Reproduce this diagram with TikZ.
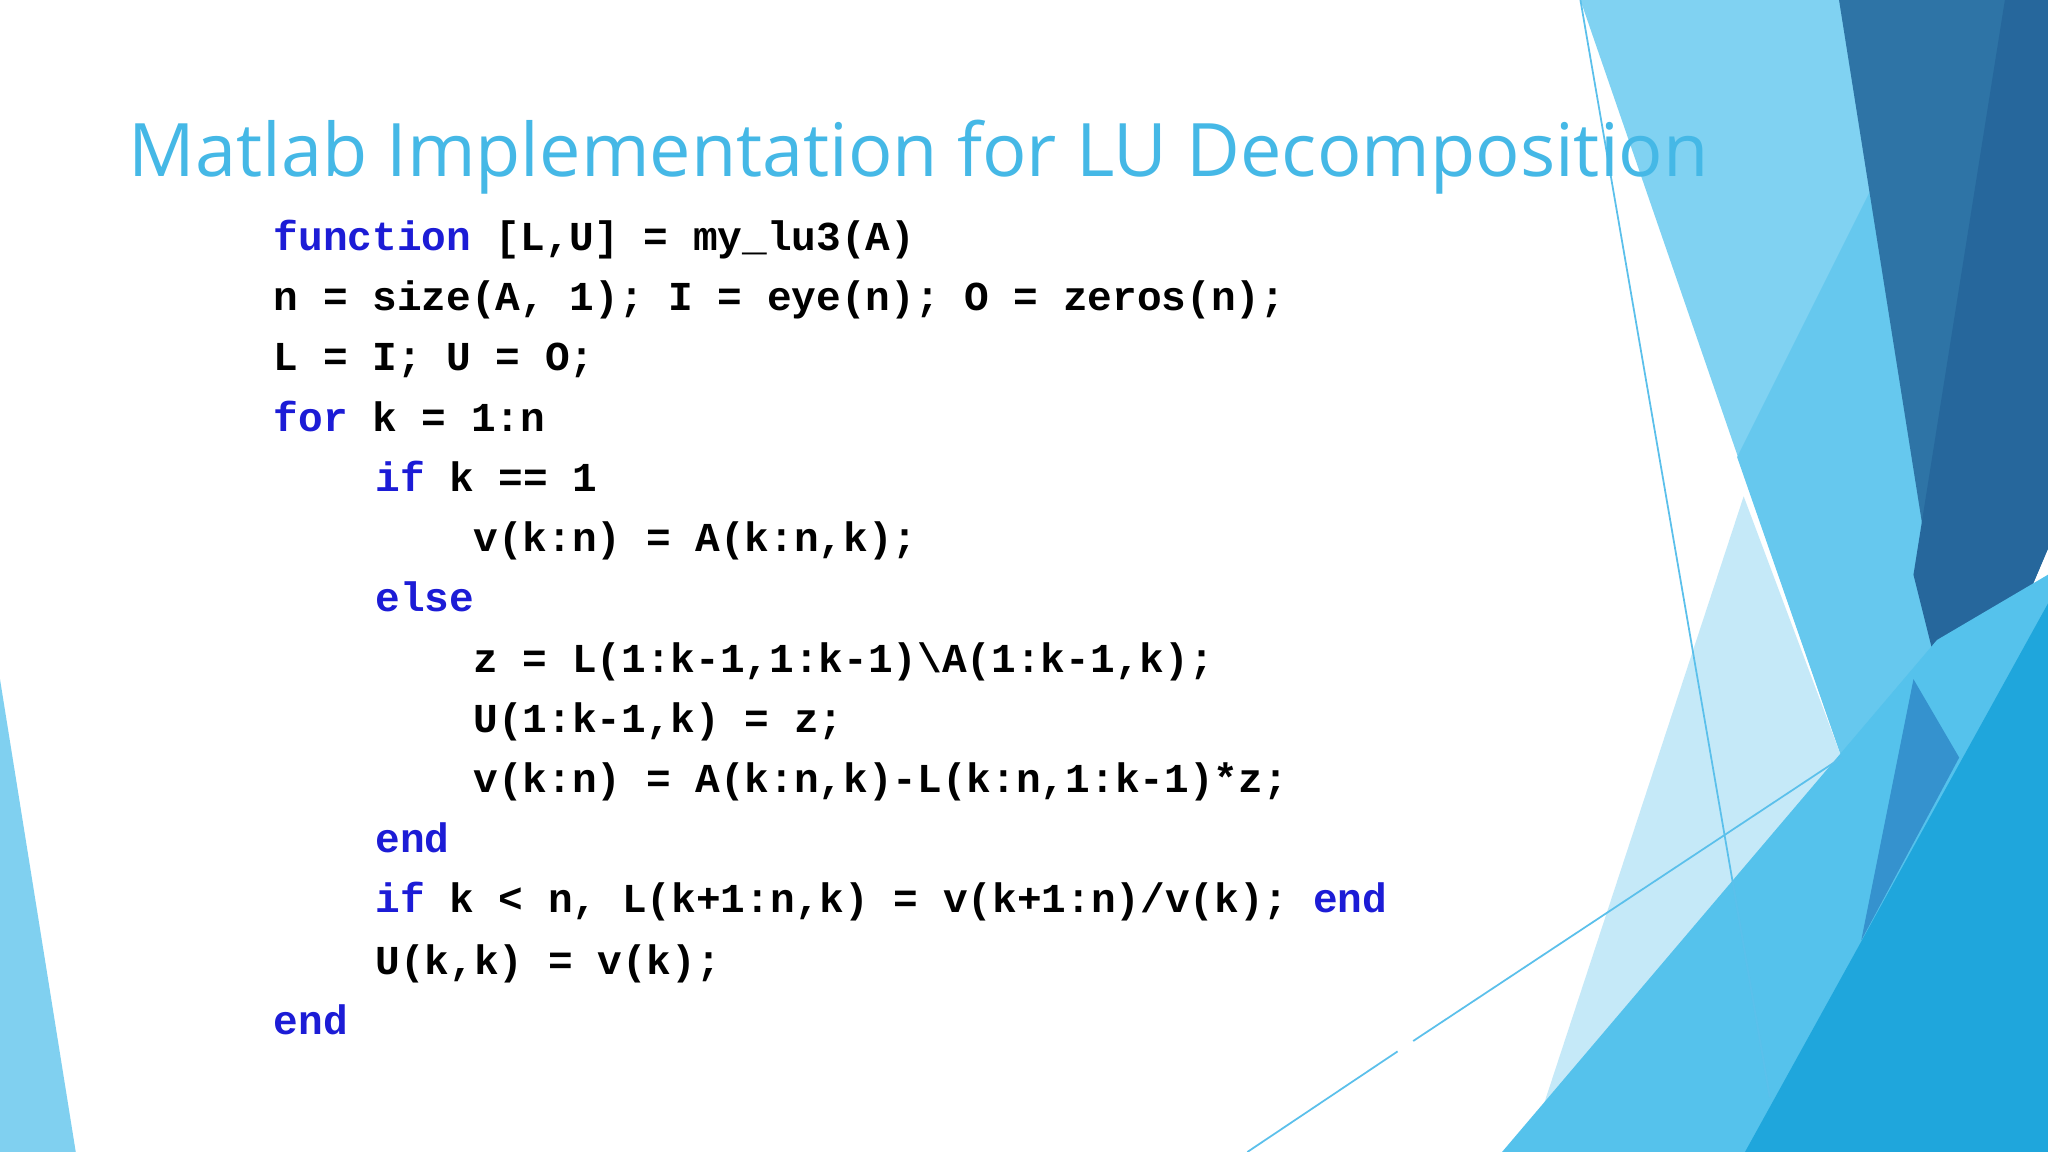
\documentclass[tikz,border=0pt]{standalone}
\usepackage{fontspec}
\setmainfont{Open Sans}
\setmonofont{Liberation Mono}
\definecolor{kw}{HTML}{1C1CD6}
\definecolor{ttl}{HTML}{45B8E6}
\begin{document}
\begin{tikzpicture}[x=0.01306cm,y=-0.01306cm,
  code/.style={anchor=base west,inner sep=0pt,font=\fontsize{11.7}{14}\ttfamily\bfseries},
  shp/.style={draw=none}]
\useasboundingbox (0,0) rectangle (1568,882);
\fill[white] (0,0) rectangle (1568,882);
% background shapes
\fill[color={rgb,255:red,128;green,210;blue,242}] (1210,0) -- (1410,0) -- (1500,580) -- (1410,580) -- cycle;
\fill[color={rgb,255:red,102;green,200;blue,238}] (1330,350) -- (1440,130) -- (1500,580) -- (1410,580) -- cycle;
\fill[color={rgb,255:red,46;green,116;blue,166}] (1408,0) -- (1568,0) -- (1568,420) -- (1500,580) -- cycle;
\fill[color={rgb,255:red,38;green,103;blue,156}] (1535,0) -- (1568,0) -- (1568,420) -- (1500,580) -- (1465,440) -- cycle;
\fill[color={rgb,255:red,197;green,233;blue,248}] (1170,882) -- (1335,380) -- (1410,580) -- (1380,882) -- cycle;
\fill[color={rgb,255:red,85;green,194;blue,236}] (1150,882) -- (1483,490) -- (1568,440) -- (1568,882) -- cycle;
\fill[color={rgb,255:red,53;green,146;blue,206}] (1425,720) -- (1465,520) -- (1500,580) -- cycle;
\fill[color={rgb,255:red,31;green,166;blue,220}] (1336,882) -- (1568,462) -- (1568,882) -- cycle;
\fill[color={rgb,255:red,128;green,208;blue,240}] (0,520) -- (0,882) -- (58,882) -- cycle;
\draw[color={rgb,255:red,91;green,192;blue,235},line width=0.5pt] (1210,0) -- (1355,840);
\draw[color={rgb,255:red,91;green,192;blue,235},line width=0.5pt] (955,882) -- (1070,805);
\draw[color={rgb,255:red,91;green,192;blue,235},line width=0.5pt] (1082,797) -- (1410,580);
% title
\node[anchor=base west,inner sep=0pt,text=ttl,font=\fontsize{21}{25}\selectfont] (title) at (98,135) {Matlab Implementation for LU Decomposition};
% code
\node[code] (l1) at (209,192) {\textcolor{kw}{function} [L,U] = my\_lu3(A)};
\node[code] (l2) at (209,238) {n = size(A, 1); I = eye(n); O = zeros(n);};
\node[code] (l3) at (209,284) {L = I; U = O;};
\node[code] (l4) at (209,330) {\textcolor{kw}{for} k = 1:n};
\node[code] (l5) at (287,376) {\textcolor{kw}{if} k == 1};
\node[code] (l6) at (362,422) {v(k:n) = A(k:n,k);};
\node[code] (l7) at (287,468) {\textcolor{kw}{else}};
\node[code] (l8) at (362,515) {z = L(1:k-1,1:k-1)\textbackslash A(1:k-1,k);};
\node[code] (l9) at (362,561) {U(1:k-1,k) = z;};
\node[code] (l10) at (362,607) {v(k:n) = A(k:n,k)-L(k:n,1:k-1)*z;};
\node[code] (l11) at (287,653) {\textcolor{kw}{end}};
\node[code] (l12) at (287,699) {\textcolor{kw}{if} k < n, L(k+1:n,k) = v(k+1:n)/v(k); \textcolor{kw}{end}};
\node[code] (l13) at (287,746) {U(k,k) = v(k);};
\node[code] (l14) at (209,792) {\textcolor{kw}{end}};
\end{tikzpicture}
\end{document}
